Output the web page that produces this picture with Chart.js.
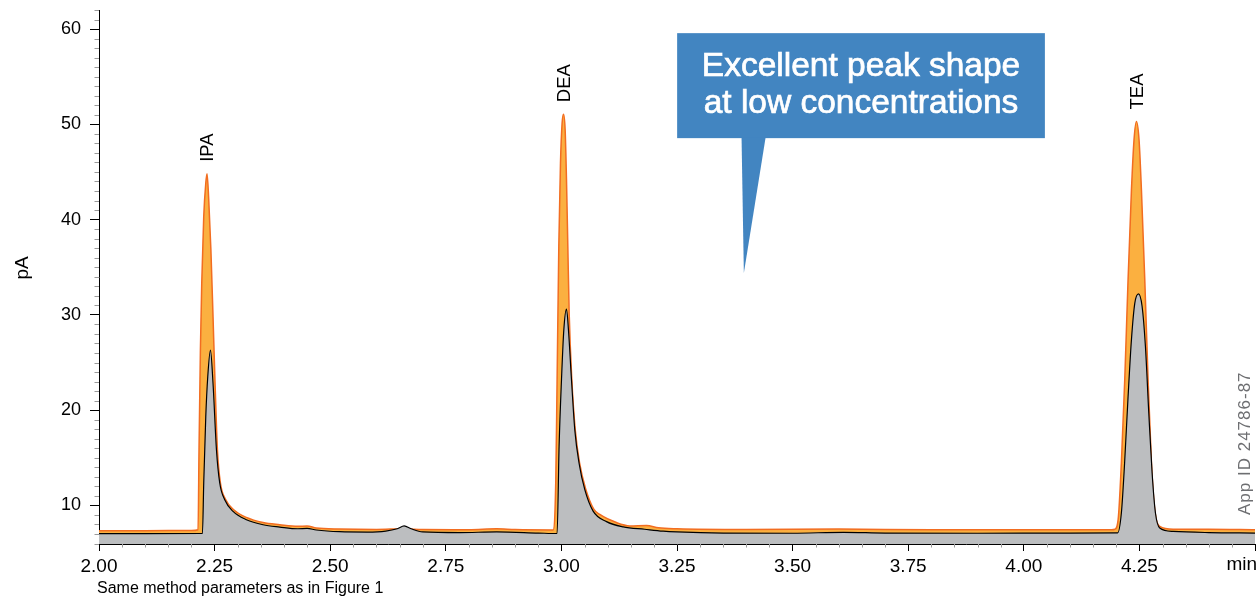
<!DOCTYPE html>
<html>
<head>
<meta charset="utf-8">
<title>IPA / DEA / TEA chromatogram</title>
<script src="https://cdn.jsdelivr.net/npm/chart.js@4.4.1/dist/chart.umd.min.js"></script>
<style>
  html, body { margin: 0; padding: 0; background: #ffffff; }
  #wrap { width: 1257px; height: 596px; }
</style>
</head>
<body>
<div id="wrap"><canvas id="chrom" width="1257" height="596"></canvas></div>
<script>
// Higher-concentration trace (orange): retention time in min, signal in pA
const orangeTime = [
  2.000, 2.100, 2.200, 2.2142, 2.2163, 2.2193, 2.2222, 2.2265, 2.2309, 2.2336,
  2.2372, 2.2420, 2.2466, 2.2510, 2.2561, 2.2626, 2.2733, 2.2914, 2.3188, 2.3548,
  2.391, 2.430, 2.450, 2.470, 2.520, 2.600, 2.660, 2.700, 2.800, 2.860,
  2.900, 2.982, 2.9879, 2.9907, 2.9944, 2.998, 3.0015, 3.0046, 3.0081, 3.011,
  3.0139, 3.0168, 3.0225, 3.0300, 3.0395, 3.052, 3.070, 3.083, 3.119, 3.148,
  3.184, 3.210, 3.250, 3.400, 3.600, 3.800, 4.000, 4.190, 4.197, 4.204,
  4.211, 4.2183, 4.2255, 4.2328, 4.2384, 4.2436, 4.2492, 4.2544, 4.2616, 4.2688,
  4.276, 4.2832, 4.294, 4.323, 4.400, 4.500
];
const orangeSignal = [
  7.35, 7.35, 7.36, 7.45, 15.85, 26.3, 33.3, 40.3, 43.8, 44.8,
  42.2, 36.8, 29.8, 22.8, 15.85, 12.35, 10.67, 9.55, 8.74, 8.2,
  7.97, 7.8, 7.85, 7.62, 7.52, 7.48, 7.55, 7.46, 7.45, 7.55,
  7.46, 7.42, 12.7, 23.2, 37.2, 45.9, 50.1, 51.07, 49.4, 44.2,
  37.2, 30.2, 23.2, 17.9, 14.4, 11.8, 9.6, 9.05, 8.2, 7.85,
  7.9, 7.65, 7.55, 7.48, 7.52, 7.45, 7.45, 7.45, 7.5, 8.5,
  14.45, 23.2, 33.7, 43.1, 48.4, 50.3, 48.4, 43.1, 33.7, 23.2,
  14.45, 9.55, 7.8, 7.5, 7.5, 7.45
];

// Low-concentration trace (grey)
const greyTime = [
  2.000, 2.100, 2.2237, 2.2265, 2.2309, 2.2352, 2.2410, 2.2466, 2.2540, 2.2611,
  2.2719, 2.2899, 2.3188, 2.3548, 2.391, 2.430, 2.450, 2.470, 2.520, 2.580,
  2.620, 2.645, 2.660, 2.675, 2.700, 2.780, 2.860, 2.950, 2.9907, 2.995,
  3.0002, 3.0052, 3.011, 3.0153, 3.0218, 3.029, 3.0383, 3.0506, 3.0686, 3.0976,
  3.1335, 3.180, 3.220, 3.250, 3.350, 3.500, 3.610, 3.700, 3.900, 4.100,
  4.203, 4.211, 4.218, 4.2255, 4.2328, 4.240, 4.248, 4.2558, 4.263, 4.2703,
  4.2775, 4.2847, 4.294, 4.323, 4.400, 4.500
];
const greySignal = [
  7.03, 7.03, 7.05, 12.35, 19.3, 23.5, 26.3, 22.8, 15.85, 12.35,
  10.6, 9.37, 8.5, 7.97, 7.73, 7.55, 7.58, 7.42, 7.24, 7.2,
  7.3, 7.55, 7.85, 7.55, 7.22, 7.15, 7.22, 7.1, 7.05, 16.2,
  23.2, 28.4, 30.6, 28.4, 23.2, 17.9, 14.4, 11.65, 9.4, 8.3,
  7.75, 7.5, 7.3, 7.22, 7.1, 7.08, 7.18, 7.1, 7.08, 7.1,
  7.12, 9.2, 14.45, 21.4, 27.4, 31.2, 32.2, 30.9, 26.7, 19.7,
  13.4, 9.2, 7.63, 7.27, 7.15, 7.1
];

// Peak names with apex positions of the orange trace
const peakNames = ['IPA', 'DEA', 'TEA'];
const peakTimes = [2.2336, 3.0046, 4.2436];
const peakHeights = [44.8, 51.07, 50.3];

// Labelled ticks
const xTickLabels = ['2.00', '2.25', '2.50', '2.75', '3.00', '3.25', '3.50', '3.75', '4.00', '4.25'];
const yTickLabels = [10, 20, 30, 40, 50, 60];

const calloutLines = ['Excellent peak shape', 'at low concentrations'];
const footnote = 'Same method parameters as in Figure 1';
const appId = 'App ID 24786-87';

const FONT = '"Liberation Sans", Arial, Helvetica, sans-serif';
Chart.defaults.font.family = FONT;
Chart.defaults.color = '#000';

function toPoints(xs, ys) { return xs.map((x, i) => ({ x: x, y: ys[i] })); }
function xIsMajor(v) { return xTickLabels.includes(v.toFixed(2)) || Math.abs(v - 4.5) < 1e-6; }
function yIsMajor(v) { return yTickLabels.includes(Math.round(v)) && Math.abs(v - Math.round(v)) < 1e-6; }

const decorations = {
  id: 'decorations',
  afterDatasetsDraw(chart) {
    const { ctx, scales: { x, y } } = chart;
    // peak names, rotated above each apex
    ctx.save();
    ctx.fillStyle = '#000';
    ctx.font = '18.5px ' + FONT;
    ctx.textAlign = 'left';
    ctx.textBaseline = 'middle';
    peakNames.forEach((name, i) => {
      const px = x.getPixelForValue(peakTimes[i]) + 1;
      const py = y.getPixelForValue(peakHeights[i]) - 12;
      ctx.save();
      ctx.translate(px, py);
      ctx.rotate(-Math.PI / 2);
      ctx.fillText(name, 0, 0);
      ctx.restore();
    });
    ctx.restore();

    // speech-bubble callout
    const box = { t0: 3.2503, t1: 4.0456, v0: 59.57, v1: 48.55 };
    const tail = { tl: 3.3896, tr: 3.4415, tipT: 3.3946, tipV: 34.39 };
    const bx0 = x.getPixelForValue(box.t0), bx1 = x.getPixelForValue(box.t1);
    const by0 = y.getPixelForValue(box.v0), by1 = y.getPixelForValue(box.v1);
    ctx.save();
    ctx.fillStyle = '#4285c1';
    ctx.fillRect(bx0, by0, bx1 - bx0, by1 - by0);
    ctx.beginPath();
    ctx.moveTo(x.getPixelForValue(tail.tl), by1 - 0.5);
    ctx.lineTo(x.getPixelForValue(tail.tr), by1 - 0.5);
    ctx.lineTo(x.getPixelForValue(tail.tipT), y.getPixelForValue(tail.tipV));
    ctx.closePath();
    ctx.fill();
    ctx.fillStyle = '#ffffff';
    ctx.strokeStyle = '#ffffff';
    ctx.lineWidth = 0.7;
    ctx.font = '33.5px ' + FONT;
    ctx.textAlign = 'center';
    ctx.textBaseline = 'alphabetic';
    const cx = (bx0 + bx1) / 2;
    calloutLines.forEach((line, i) => {
      const ly = by0 + 43 + i * 37;
      ctx.fillText(line, cx, ly);
      ctx.strokeText(line, cx, ly);
    });
    ctx.restore();
  },
  afterDraw(chart) {
    const { ctx, scales: { x, y } } = chart;
    ctx.save();
    // minor ticks
    ctx.strokeStyle = '#9a9a9a';
    ctx.lineWidth = 1;
    ctx.beginPath();
    y.ticks.forEach(t => {
      if (yIsMajor(t.value)) return;
      const py = Math.round(y.getPixelForValue(t.value)) + 0.5;
      ctx.moveTo(y.right - 4.5, py);
      ctx.lineTo(y.right, py);
    });
    x.ticks.forEach(t => {
      if (xIsMajor(t.value)) return;
      const px = Math.round(x.getPixelForValue(t.value)) + 0.5;
      ctx.moveTo(px, x.top);
      ctx.lineTo(px, x.top + 3.5);
    });
    ctx.stroke();

    ctx.fillStyle = '#000';
    // unit label at the end of the time axis
    ctx.font = '19px ' + FONT;
    ctx.textAlign = 'right';
    ctx.textBaseline = 'top';
    ctx.fillText('min', chart.width, x.top + 11);

    // y axis title
    ctx.save();
    ctx.translate(28, 268);
    ctx.rotate(-Math.PI / 2);
    ctx.textAlign = 'center';
    ctx.textBaseline = 'alphabetic';
    ctx.font = '19px ' + FONT;
    ctx.fillText('pA', 0, 0);
    ctx.restore();

    // footnote
    ctx.font = '16px ' + FONT;
    ctx.textAlign = 'left';
    ctx.textBaseline = 'alphabetic';
    ctx.fillText(footnote, 97, 593);

    // application id, vertical along the right edge
    ctx.save();
    ctx.translate(1250, 515);
    ctx.rotate(-Math.PI / 2);
    ctx.fillStyle = '#6d6e71';
    ctx.font = '17px ' + FONT;
    ctx.letterSpacing = '1px';
    ctx.textAlign = 'left';
    ctx.textBaseline = 'alphabetic';
    ctx.fillText(appId, 0, 0);
    ctx.restore();
    ctx.restore();
  }
};

new Chart(document.getElementById('chrom'), {
  type: 'line',
  data: {
    datasets: [
      {
        label: 'low concentration',
        data: toPoints(greyTime, greySignal),
        borderColor: '#000000',
        borderWidth: 1.2,
        backgroundColor: '#bcbec0',
        fill: 'start',
        pointRadius: 0,
        cubicInterpolationMode: 'monotone',
        order: 0
      },
      {
        label: 'high concentration',
        data: toPoints(orangeTime, orangeSignal),
        borderColor: '#f26d21',
        borderWidth: 1.5,
        backgroundColor: '#fbb040',
        fill: 'start',
        pointRadius: 0,
        cubicInterpolationMode: 'monotone',
        order: 1
      }
    ]
  },
  options: {
    responsive: false,
    animation: false,
    devicePixelRatio: 1,
    layout: { padding: { top: 10, right: 2, left: 0, bottom: 0 } },
    plugins: { legend: { display: false }, tooltip: { enabled: false } },
    elements: { line: { borderJoinStyle: 'round' } },
    scales: {
      x: {
        type: 'linear',
        min: 2.0,
        max: 4.5,
        z: 1,
        border: { display: true, color: '#000', width: 1 },
        grid: {
          drawOnChartArea: false,
          drawTicks: true,
          tickLength: 7,
          tickColor: c => (c.tick && xIsMajor(c.tick.value)) ? '#000' : 'rgba(0,0,0,0)'
        },
        ticks: {
          stepSize: 0.05,
          autoSkip: false,
          maxRotation: 0,
          includeBounds: false,
          padding: 4,
          font: { size: 19 },
          color: '#000',
          callback: v => {
            const s = Number(v).toFixed(2);
            return xTickLabels.includes(s) ? s : '';
          }
        },
        afterFit: s => { s.height = 52; s.paddingLeft = 0; s.paddingRight = 0; }
      },
      y: {
        type: 'linear',
        min: 5.95,
        max: 62,
        z: 1,
        border: { display: true, color: '#000', width: 1 },
        grid: {
          drawOnChartArea: false,
          drawTicks: true,
          tickLength: 9,
          tickColor: c => (c.tick && yIsMajor(c.tick.value)) ? '#000' : 'rgba(0,0,0,0)'
        },
        ticks: {
          stepSize: 1,
          autoSkip: false,
          includeBounds: false,
          padding: 9,
          font: { size: 18 },
          color: '#000',
          callback: v => yIsMajor(v) ? String(Math.round(v)) : ''
        },
        afterFit: s => { s.width = 99; s.paddingTop = 0; s.paddingBottom = 0; }
      }
    }
  },
  plugins: [decorations]
});
</script>
</body>
</html>
